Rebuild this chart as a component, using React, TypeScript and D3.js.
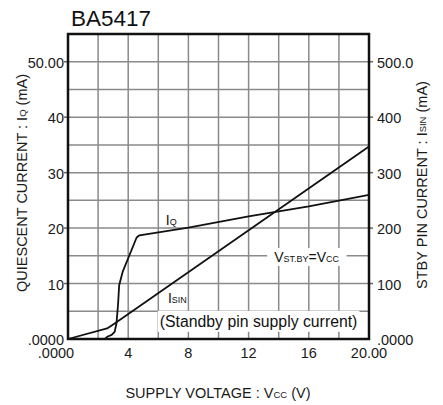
import { useEffect, useRef } from "react"
import * as d3 from "d3"

// supply voltage (V) vs quiescent current Iq (mA, left axis)
const iqPoints: [number, number][] = [
  [2.45, 0], [2.6, 0.4], [2.9, 0.75], [3.1, 1.3], [3.22, 2.8], [3.33, 6.4],
  [3.4, 9.7], [3.63, 12.1], [4.56, 18.3], [4.75, 18.7], [8, 20.1],
  [12, 22.1], [16, 23.9], [20, 26.0],
]
// standby pin current Isin, drawn on the left grid (right axis = x10)
const isinPoints: [number, number][] = [
  [0, 0], [2.6, 1.9], [3.1, 2.8], [20, 34.7],
]

const xTicks = [0, 4, 8, 12, 16, 20]
const xTickLabels = [".0000", "4", "8", "12", "16", "20.00"]
const yTicks = [0, 10, 20, 30, 40, 50]
const yTickLabels = [".0000", "10", "20", "30", "40", "50.00"]
const yRightTicks = [0, 100, 200, 300, 400, 500]
const yRightTickLabels = [".0000", "100", "200", "300", "400", "500.0"]

const FONT = "'Liberation Sans', Arial, sans-serif"

export default function App() {
  const svgRef = useRef<SVGSVGElement>(null)

  useEffect(() => {
    const svg = d3.select(svgRef.current)
    const width = 443
    const height = 405
    const margin = { top: 34, right: 74, bottom: 66, left: 68 }

    svg.selectAll("*").remove()
    svg.attr("width", width).attr("height", height)
      .style("font-family", FONT)

    const x = d3.scaleLinear().domain([0, 20]).range([margin.left, width - margin.right])
    const y = d3.scaleLinear().domain([0, 55]).range([height - margin.bottom, margin.top])
    const yR = d3.scaleLinear().domain([0, 550]).range([height - margin.bottom, margin.top])

    // grid
    const grid = svg.append("g").attr("stroke", "#8a8a8a").attr("stroke-width", 1.5)
    grid.selectAll("line.v")
      .data(d3.range(2, 20, 2))
      .join("line")
      .attr("x1", d => x(d)).attr("x2", d => x(d))
      .attr("y1", y(0)).attr("y2", y(55))
    grid.selectAll("line.h")
      .data(d3.range(5, 55, 5))
      .join("line")
      .attr("class", "h")
      .attr("y1", d => y(d)).attr("y2", d => y(d))
      .attr("x1", x(0)).attr("x2", x(20))

    // outer ticks for labelled values
    const ticks = svg.append("g").attr("stroke", "#666").attr("stroke-width", 1.5)
    ticks.selectAll("line.l")
      .data(yTicks.slice(1))
      .join("line")
      .attr("class", "l")
      .attr("x1", x(0) - 4).attr("x2", x(0))
      .attr("y1", d => y(d)).attr("y2", d => y(d))
    ticks.selectAll("line.r")
      .data(yRightTicks.slice(1))
      .join("line")
      .attr("class", "r")
      .attr("x1", x(20)).attr("x2", x(20) + 4)
      .attr("y1", d => yR(d)).attr("y2", d => yR(d))

    // annotations (with white backing where the reference has one)
    const ann = svg.append("g").attr("fill", "#111")

    const iq = ann.append("text")
      .attr("x", x(6.5)).attr("y", y(20.6))
      .attr("font-size", 14)
    iq.append("tspan").text("I")
    iq.append("tspan").attr("font-size", 9).text("Q")

    const isin = ann.append("text")
      .attr("x", x(6.64)).attr("y", y(6.5))
      .attr("font-size", 14)
    isin.append("tspan").text("I")
    isin.append("tspan").attr("font-size", 9).text("SIN")

    const vst = ann.append("text")
      .attr("x", x(13.7)).attr("y", y(13.9))
      .attr("font-size", 14)
    vst.append("tspan").text("V")
    vst.append("tspan").attr("font-size", 9).text("ST.BY")
    vst.append("tspan").text("=V")
    vst.append("tspan").attr("font-size", 9).text("CC")

    const standby = ann.append("text")
      .attr("x", x(6.1)).attr("y", y(2.2))
      .attr("font-size", 15.8)
      .text("(Standby pin supply current)")

    const backing = (node: SVGTextElement | null, px: number, py: number) => {
      if (!node) return
      const b = node.getBBox()
      svg.insert("rect", () => ann.node())
        .attr("x", b.x - px).attr("y", b.y - py)
        .attr("width", b.width + px * 2).attr("height", b.height + py * 2)
        .attr("fill", "#fff")
    }
    backing(vst.node(), 7, 1)
    backing(standby.node(), 2, 2)

    // curves
    const line = d3.line<[number, number]>()
      .x(d => x(d[0]))
      .y(d => y(d[1]))

    svg.append("path")
      .datum(iqPoints)
      .attr("fill", "none")
      .attr("stroke", "#111")
      .attr("stroke-width", 1.8)
      .attr("stroke-linejoin", "round")
      .attr("d", line)

    svg.append("path")
      .datum(isinPoints)
      .attr("fill", "none")
      .attr("stroke", "#111")
      .attr("stroke-width", 1.8)
      .attr("stroke-linejoin", "round")
      .attr("d", line)

    // frame
    svg.append("rect")
      .attr("x", x(0)).attr("y", y(55))
      .attr("width", x(20) - x(0)).attr("height", y(0) - y(55))
      .attr("fill", "none")
      .attr("stroke", "#111")
      .attr("stroke-width", 2.5)

    // tick labels
    const labels = svg.append("g").attr("fill", "#1a1a1a").attr("font-size", 14.5)
    labels.selectAll("text.l")
      .data(yTicks)
      .join("text")
      .attr("class", "l")
      .attr("x", x(0) - 4)
      .attr("y", d => y(d) + 1)
      .attr("text-anchor", "end")
      .attr("dominant-baseline", "central")
      .text((_, i) => yTickLabels[i])
    labels.selectAll("text.r")
      .data(yRightTicks)
      .join("text")
      .attr("class", "r")
      .attr("x", x(20) + 8)
      .attr("y", d => yR(d) + 1)
      .attr("dominant-baseline", "central")
      .text((_, i) => yRightTickLabels[i])
    labels.selectAll("text.b")
      .data(xTicks)
      .join("text")
      .attr("class", "b")
      .attr("x", (d, i) => x(d) - (i === 0 ? 12 : 0))
      .attr("y", y(0) + 19)
      .attr("text-anchor", "middle")
      .text((_, i) => xTickLabels[i])

    // title
    svg.append("text")
      .attr("x", 71).attr("y", 26)
      .attr("font-size", 22.5)
      .attr("fill", "#111")
      .text("BA5417")

    // axis titles
    const xt = svg.append("text")
      .attr("x", 218).attr("y", 398)
      .attr("text-anchor", "middle")
      .attr("font-size", 14.5)
      .attr("fill", "#1a1a1a")
    xt.append("tspan").text("SUPPLY VOLTAGE : V")
    xt.append("tspan").attr("font-size", 9.5).text("CC")
    xt.append("tspan").text(" (V)")

    const yl = svg.append("text")
      .attr("transform", "translate(22,183) rotate(-90)")
      .attr("text-anchor", "middle")
      .attr("dominant-baseline", "central")
      .attr("font-size", 14.5)
      .attr("fill", "#1a1a1a")
    yl.append("tspan").text("QUIESCENT CURRENT : I")
    yl.append("tspan").attr("font-size", 9.5).text("Q")
    yl.append("tspan").text(" (mA)")

    const yr = svg.append("text")
      .attr("transform", "translate(422,185) rotate(-90)")
      .attr("text-anchor", "middle")
      .attr("dominant-baseline", "central")
      .attr("font-size", 14.5)
      .attr("fill", "#1a1a1a")
    yr.append("tspan").text("STBY PIN CURRENT : I")
    yr.append("tspan").attr("font-size", 9.5).text("SIN")
    yr.append("tspan").text(" (mA)")
  }, [])

  return (
    <svg
      ref={svgRef}
      style={{ position: "absolute", left: 0, top: 0, background: "#fff" }}
    />
  )
}
